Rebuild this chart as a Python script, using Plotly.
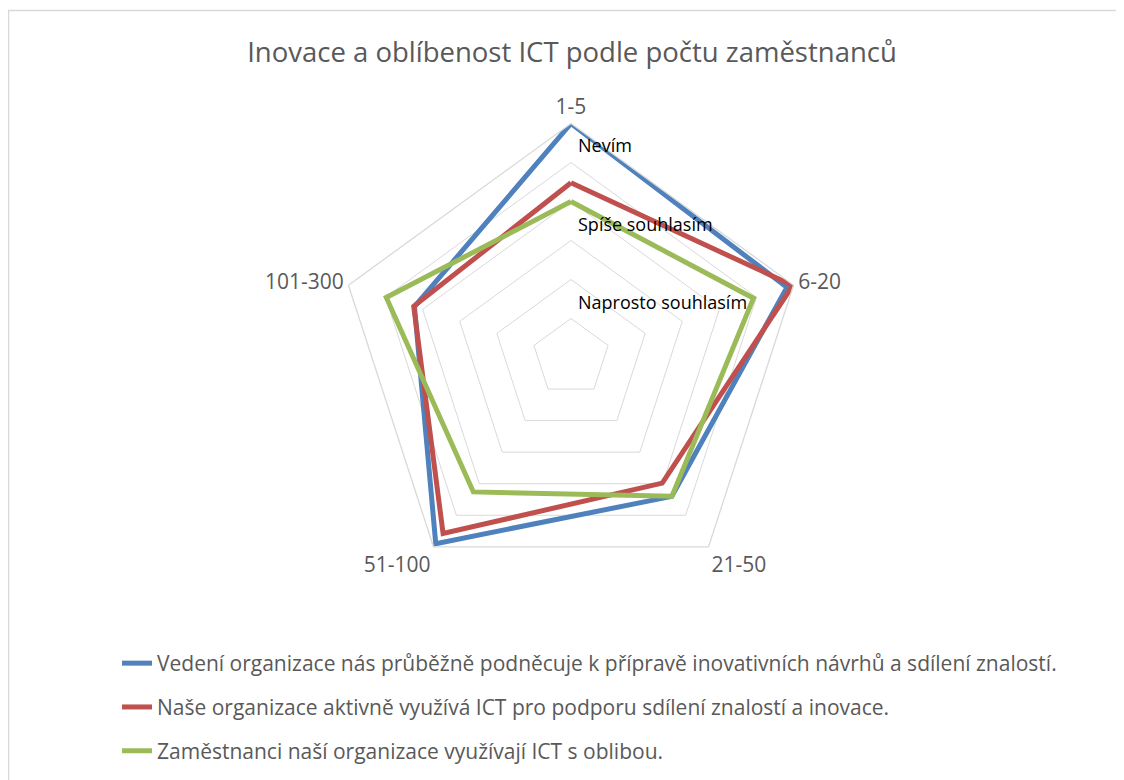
import plotly.graph_objects as go

categories = ["1-5", "6-20", "21-50", "51-100", "101-300"]
series_names = [
    "Vedení organizace nás průběžně podněcuje k přípravě inovativních návrhů a sdílení znalostí.",
    "Naše organizace aktivně využívá ICT pro podporu sdílení znalostí a inovace.",
    "Zaměstnanci naší organizace využívají ICT s oblibou.",
]
vedeni = [3.0, 2.91, 2.2, 2.95, 2.11]
ict_podpora = [2.24, 2.99, 1.99, 2.79, 2.12]
ict_obliba = [2.0, 2.46, 2.2, 2.13, 2.49]
tick_vals = [1, 2, 3]
tick_text = ["Naprosto souhlasím", "Spíše souhlasím", "Nevím"]

colors = ["#4F81BD", "#C0504D", "#9BBB59"]
W, H = 1116, 772
cx, cy, R = 563, 349.5, 234
rmax = 3.0
FONT = "Open Sans"

fig = go.Figure()
for i, (name, vals) in enumerate(zip(series_names, [vedeni, ict_podpora, ict_obliba])):
    fig.add_trace(go.Scatterpolar(
        r=vals + vals[:1], theta=categories + categories[:1],
        mode="lines", name=name, legendgroup=str(i),
        line=dict(color=colors[i], width=5),
    ))

annotations = []
for v, t in zip(tick_vals, tick_text):
    ypix = cy - v * R / rmax + 22
    annotations.append(dict(
        x=(cx + 5) / W, y=1 - ypix / H, xref="paper", yref="paper",
        text=t, showarrow=False, xanchor="left", yanchor="middle",
        font=dict(family=FONT, size=18, color="#000000"),
    ))

fig.update_layout(
    width=W, height=H,
    margin=dict(l=0, r=0, t=0, b=0),
    paper_bgcolor="white",
    title=dict(text="Inovace a oblíbenost ICT podle počtu zaměstnanců",
               x=(572 - 8) / W, xanchor="center", y=1 - 44 / H, yanchor="middle",
               font=dict(family=FONT, size=27.5, color="#595959")),
    polar=dict(
        domain=dict(x=[(cx - R) / W, (cx + R) / W], y=[1 - (cy + R) / H, 1 - (cy - R) / H]),
        gridshape="linear",
        bgcolor="white",
        radialaxis=dict(range=[0, rmax], dtick=0.5, tick0=0, showticklabels=False,
                        ticks="", showline=False, gridcolor="#D9D9D9", gridwidth=1.3, angle=90),
        angularaxis=dict(rotation=90, direction="clockwise", showgrid=False,
                         showline=True, linecolor="#D9D9D9", linewidth=1.3, ticks="",
                         tickfont=dict(family=FONT, size=21, color="#595959")),
    ),
    legend=dict(x=109 / W, y=1 - 635 / H, xanchor="left", yanchor="top",
                tracegroupgap=13.5, itemwidth=30,
                font=dict(family=FONT, size=21, color="#595959")),
    annotations=annotations,
    shapes=[dict(type="rect", xref="paper", yref="paper",
                 x0=0.5 / W, x1=1.02, y0=-0.02, y1=1 - 2.5 / H,
                 line=dict(color="#D9D9D9", width=1.5))],
)

fig.write_html("out.html")
